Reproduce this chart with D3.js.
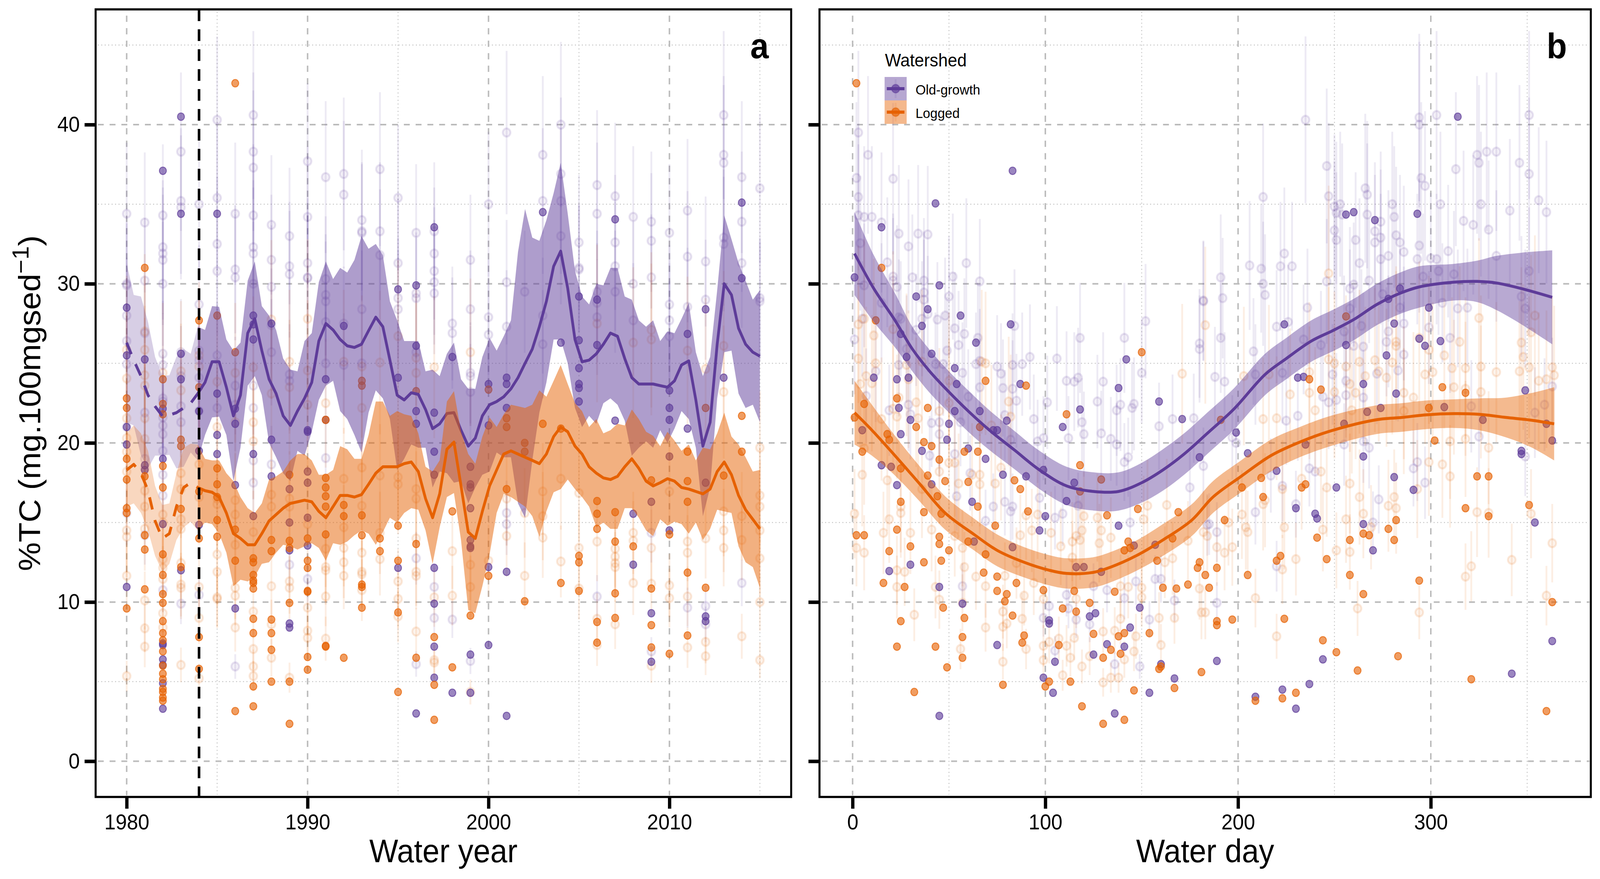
<!DOCTYPE html>
<html><head><meta charset="utf-8"><style>html,body{margin:0;padding:0;background:#fff;overflow:hidden}svg{display:block;width:100vw;height:100vh}text{font-family:"Liberation Sans",Arial,sans-serif;fill:#000}</style>
<script src="https://cdn.jsdelivr.net/npm/d3@7"></script></head><body><svg id="c" viewBox="0 0 4350 2250" preserveAspectRatio="none"></svg>
<script>
const yearTicks=[1980,1990,2000,2010], yearMinor=[1985,1995,2005,2015];
const dayTicks=[0,100,200,300], dayMinor=[50,150,250,350];
const valueTicks=[0,10,20,30,40], valueMinor=[5,15,25,35,45];
const interventionYear=1984;
const gridYears=[1980,1980.39,1980.79,1981.18,1981.57,1981.97,1982.36,1982.75,1983.15,1983.54,1983.93,1984.33,1984.72,1985.11,1985.51,1985.9,1986.29,1986.69,1987.08,1987.47,1987.87,1988.26,1988.65,1989.05,1989.44,1989.83,1990.23,1990.62,1991.01,1991.41,1991.8,1992.19,1992.59,1992.98,1993.37,1993.77,1994.16,1994.55,1994.95,1995.34,1995.73,1996.12,1996.52,1996.91,1997.3,1997.7,1998.09,1998.48,1998.88,1999.27,1999.66,2000.06,2000.45,2000.84,2001.24,2001.63,2002.02,2002.42,2002.81,2003.2,2003.6,2003.99,2004.38,2004.78,2005.17,2005.56,2005.96,2006.35,2006.74,2007.13,2007.53,2007.92,2008.31,2008.71,2009.1,2009.49,2009.89,2010.28,2010.67,2011.07,2011.46,2011.85,2012.25,2012.64,2013.03,2013.43,2013.82,2014.21,2014.61,2015];
const oldMeanA=[26.3,25.2,24.2,23,22.3,21.7,21.75,21.9,22.2,22.5,23.1,23.8,25.1,25.1,23.5,21.7,23,26.9,27.8,25.8,24,23.1,21.7,21.1,22,22.8,23.8,26.4,27.5,27.1,26.5,26.1,26,26.2,27.05,27.9,27.3,25.2,23,22.7,23.15,23.05,22.1,20.9,21.2,21.85,21.9,20.8,19.8,20.3,21.7,22.4,22.6,22.9,23.4,24.1,25,25.9,27.3,28.9,31.1,32.05,29.7,26.5,25.1,25.2,25.6,26.2,26.9,26.7,25.3,24.1,23.7,23.7,23.7,23.6,23.5,23.9,24.9,25.15,22.7,19.8,21.3,26.2,30,29.3,27.2,26.2,25.7,25.45];
const oldHalfA=[5,4.1,5,4.6,3.1,2.5,2.5,3.5,3.7,3.1,4.2,3.3,3.5,3.45,3,4.1,3.3,3.3,3.6,2.8,4,4,3.6,3.5,2.5,3.6,3.1,3.7,3.9,3.2,4.5,4.6,5.5,6.8,5.15,4.6,4.5,3.7,4.7,3.7,3.25,3.35,2.4,3.7,3,3.75,4.4,3.2,3.6,3.1,3.7,4.2,3.2,3.8,4.3,7.9,9.7,7,5.4,5.1,4.6,5.55,4.7,4.3,4.1,3.5,4.4,3.7,4.1,4.3,3.9,4.9,4,3.6,4,2.8,3.5,3,2.9,3.65,3,4.4,4.1,3.4,4.3,3.5,4.1,4,3.3,4.15];
const logMeanA=[18.3,18.65,18.1,17,15.1,14,14.3,16,17.2,17.5,17.2,17,16.9,16.6,15.6,14.3,14,13.6,13.6,14.3,15.1,15.5,15.9,16.2,16.3,16.4,16.3,15.7,15.3,16,16.7,16.7,16.6,16.75,17.4,18.1,18.5,18.5,18.5,18.7,18.8,18.2,16.5,15.3,16.8,19.6,20.05,17.3,14.4,14,15.7,17.3,18.3,19.3,19.5,19.3,19.1,18.9,18.7,19.3,20.4,21,20.7,19.8,19.3,18.5,18.1,17.8,17.7,17.9,18.5,19,18.4,17.6,17.3,17.5,17.75,17.6,17.2,17.1,16.95,16.8,17.1,18.2,18.8,18,16.7,15.8,15.2,14.6];
const logHalfA=[2.3,2.45,2.5,2.5,2.2,2.1,1.9,2.1,2.5,2.45,2.7,2,2,2.3,2.5,3.3,2.6,2.3,2,1.9,2.6,2.4,2.3,2.7,3,2.9,2.6,2.3,2.7,2.3,3.1,2.9,2.4,2.25,3.1,4.5,4.1,3.2,3.5,3.1,2.9,2.4,2,2.9,2.1,3,3.2,3.4,4.9,4.7,4.7,4.3,2.7,2.5,2.9,3,3.1,3.5,4.6,3.6,3.5,3.9,3,2.7,2.7,2.5,3.4,2.8,3.1,3.3,2.6,3.1,3.1,3.1,3.15,2.3,2.95,2.55,2.3,2.8,1.95,2.9,2.5,2.4,3.1,2.4,3.2,3.3,3,3.7];
const oldDays=[1,11,22,31,40,50,60,71,84,97,111,125,138,150,161,172,184,198,214,225,238,249,260,272,284,294,312,324,334,347,363];
const oldMeanB=[31.9,29.7,27.7,25.9,24.5,23.2,22,20.8,19.55,18.3,17.3,16.95,16.95,17.5,18.3,19.3,20.6,22.15,24.3,25.3,26.4,27.05,27.75,28.7,29.4,29.8,30.1,30.15,30.05,29.7,29.15];
const oldHalfB=[2.6,2.1,1.7,1.4,1.35,1.3,1.3,1.25,1.2,1.2,1.2,1.2,1.2,1.25,1.3,1.3,1.3,1.3,1.3,1.3,1.3,1.3,1.3,1.3,1.3,1.3,1.15,1.3,1.7,2.25,2.95];
const logDays=[1,10,22,35,48,63,75,89,102,111,125,134,147,161,176,187,201,217,231,248,272,285,298,312,325,339,352,364];
const logMeanB=[21.9,20.8,19.2,17.4,15.6,14.25,13.25,12.5,12,11.8,11.87,12.2,12.9,13.9,15.15,16.6,17.85,19.2,20,20.75,21.46,21.6,21.77,21.84,21.8,21.6,21.43,21.2];
const logHalfB=[2,1.6,1.25,1.1,1.05,1,1,.95,.95,.95,.95,.95,.95,1,1,1,1,1,.95,.95,.9,.9,.9,.9,1,1.25,1.7,2.3];
const oldRelErr=.13, logRelErr=.18;
// Panel a: first number of each row is the water year, the rest are values.
const oldSolidA=[[1980,28.5,25.5,21,19.9,10.95],[1981,25.25,18.6,18.3],[1982,37.1,22.15,19,14.9,7.4,7.3,6.4,6.05,4.9,3.3],[1983,40.5,34.4,25.6,24,12],[1984,22,19.5,14.85],[1985,34.4,23.1,20.5,19.3],[1986,22.15,21.2,17.35,9.6],[1987,28,27.45,26.5,19.3,15.4],[1988,27.5,17.9,20.2],[1989,15,13.25,8.65,8.4,17.1],[1990,20.8,20.7,18.2,17.5,15.3,13.55],[1991,24,21.45],[1992,27.35],[1995,29.65,24.1,12.15],[1996,29.9,26.1,22,21.2,3],[1997,33.55,21.9,19.45,18,12.15,9.9,7.2,5.25],[1998,25.4,4.3],[1999,18.5,17.4,17.2,15.9,13.9,13.5,13.4,6.7,4.3],[2000,23.7,21.1,12.2,7.3],[2001,24.1,23.7,22.2,11.9,2.85],[2003,34.5],[2004,26.3],[2005,29.2,26.45,24.7,23.7,23.45,22.6],[2006,29,26.15],[2007,34.05,21.4],[2008,15.55,12.35],[2009,16.3,9.3,6.25],[2010,23.3,22.2,21.45,19.15,14.5],[2011,26.85,20.9],[2012,28.4,17.5,9.1,8.8],[2013,24.1],[2014,35.1,30.35]];
const logSolidA=[[1980,22.8,22.2,19,17.7,15.9,15.6,9.6],[1981,31,17.9,14.2,13.3,10.8],[1982,24,22.45,21.8,18.55,17.2,13,11.7,10.5,9.95,8.8,8.05,7.6,6.9,6,5.5,5.15,4.55,4.35,4,3.8],[1983,20.2,19.8,15.85,12.2],[1984,27.7,23.5,16.95,14,7.8,5.8],[1985,28,18.4,17.4,16.6,15.15,14.1],[1986,42.6,25.7,14.55,12.6,3.15],[1987,12.75,12.5,11.7,11.35,11.2,10.85,8.95,8.05,4.7,3.45],[1988,13.9,13.2,8.9,8.05,7,5],[1989,18,13.85,13.4,9.95,5,2.35],[1990,14,12.6,12.15,10.7,10.65,6.55,5.75],[1991,21.45,17.8,17.2,16.65,16,14.25,7.25,7.2],[1992,16.1,15.4,6.5],[1993,23.9,23.6,15.45,14.2,11.1,10.95,9.65],[1994,14,13.2],[1995,14.8,12.6,9.35,4.35],[1996,23.25,13.65,6.5],[1997,7.8,4.8,2.6],[1998,15.7,5.9],[1999,9.15],[2000,23.35,11.65],[2001,21.55,21,17.1],[2002,20,19.45,10.05],[2003,21.2],[2004,20.9,11.2],[2005,12.9,12.5,10.7],[2006,16.35,15.55,14.6,8.75,7.45],[2007,15.65,13.8,10.55,9],[2008,13.5],[2009,17.65,10.85,8.55,7.15],[2010,14.25,6.75],[2011,19.45,17.6,16.3,11.85,7.9],[2012,22.2,10.9],[2013,17.95],[2014,21.7,19.45]];
const oldFaintA=[[1980,34.4,30,29.9,28,26.4,24.95,21,15.6],[1981,33.85,30.2,26.9,21.9,19,18.4,14.2],[1982,34.3,32.3,31.9,31.5,30,25.6,24.9,22.8,22.6,21.6,21.1,20.55,19.5,18,16.7,10.75],[1983,38.3,35.2,34.8,25.7,24.2,22.3,21.3,9.9],[1984,35,28.7,25.8,25.2,24.1,22,10.45],[1985,40.3,35.4,32.5,30.8,25.5,22.2],[1986,34.4,30.9,30.4,23.6,22.4,5.95],[1987,40.6,38.3,37.3,34.3,32.3,31.9,30,23.6,22.2,18.9,17.5],[1988,33.7,31.5,29.8,27.4,25.7,18.65],[1989,33,31.1,30.6,24.3,23.9,12.35],[1990,37.7,34.2,31.3,30.4,30.35,11.45],[1991,36.7,30.3,29.3,28.9,27.6,25,19.05],[1992,36.9,35.6,27.5,24.9],[1993,34,33.3,33.2,28.4,25],[1994,37.2,33.3,31.8],[1995,35.4,31.3,29.1,28.4],[1996,33.2,29.4,29.1,25.7,12.75,6.1],[1997,33.3,31.9,30.8,30.1,29.4,10.95,9],[1998,27.5,26.9,8.9],[1999,31.5,28.4,24.4,24.2,23.2,6.3],[2000,35,27.9,26.8],[2001,39.5,30.1,27.3,15.6,14.9],[2002,29.5],[2003,38.1,35.2,28,26.2],[2004,40,36.9,35.2,33],[2005,32.6,31,30.9],[2006,36.2,34.4,29.5,28.8,27.9,10.35],[2007,35.5,32.6,31.1,29.5],[2008,34.2,30,27.7],[2009,33.9,32.7,30.4,14.35,6.9],[2010,33.2,28.7,27.7,26.7],[2011,34.6,31.7,28.55,9.65],[2012,31.4,29,9.75,8.6],[2013,40.6,38.1,37.6,32.9,32.5],[2014,36.7,33.9,31.3,11.2],[2015,36,29.1,28.9]];
const logFaintA=[[1980,25.85,24.05,21.55,20.3,19.45,18.2,14.5,14.1,11.65,5.35],[1981,27,25.85,24.25,23.6,21.55,20.25,17,16,14.6,10.1,8.35,7.2],[1982,24.4,15.5,15,12.7,12.15,11.45,9.3,8.4],[1983,24.5,23.3,18.1,17.1,15.2,14.6,12.45,11.1,10.9,6.05],[1984,25.5,24.8,18.65,16.6,10.95,9,5.2],[1985,23.85,21,16.5,16.15,13,11.9,10.3,10.2],[1986,24.4,21.3,16.4,15.5,13.6,10.9,10.4,8.4],[1987,24.75,21.3,20.1,14.4,9.4,7.05,5.95,5.35],[1988,27.75,23.1,16.75,16,11,8.6,6.5],[1989,25.1,23.5,16.5,16,11.3,10.9,5.25],[1990,27.8,24.55,22.4,14.9,9.65,8.2,7.75],[1991,22.5,13.35,12.2,12,10.35,7.7],[1992,25.1,17.75,14.7,13.4,12.5,11.65],[1993,24.8,22.2,18.45,16.05,13.1,11.9,11.75,10.75],[1994,25.05,17.95,14.35,12.7],[1995,26.7,17.85,17.4,11.3,10.2,9.1],[1996,25.35,24.4,17.1,16.5,14,11.9,11.65,8.15],[1997,24.75,10.3,6.35,6.2],[1998,13.2,10.4],[1999,25.7,12.35,10.95,4.35],[2000,12.6],[2001,16.5,14.15],[2002,15.6,11.65],[2003,16.95,15.4,14.05],[2004,17.75,12.55],[2005,16.85,13.4,10.85],[2006,27.5,13.8,8.95,7.3],[2007,13.35,12.85,12.45,12.2,8.6],[2008,26.3,14.35,13.85,11.2],[2009,27.1,26.5,13.4,11.15,6],[2010,16.95,11.05,10.25],[2011,25.8,13.8,13.1,10.35,7.15],[2012,24.65,14,7.5,6.6],[2013,26.1,23.2,15.7,14.5,13.4],[2014,15.4,13.9,7.85],[2015,19.7,16.7,16,14.5,12.75,10,6.35]];
// Panel b: pairs of water day and value.
const oldSolidB=[[1,30.4],[15,33.55],[43,35.05],[83,37.1],[45,29.9],[33,29.2],[39,28.4],[36,27.35],[56,28],[82,27.45],[25,26.85],[64,26.3],[41,25.6],[28,25.4],[53,24.7],[11,24.1],[23,24],[29,24.1],[54,23.7],[87,23.7],[24,22.2],[53,22],[66,22],[80,21.4],[30,21.45],[138,23.45],[142,25.25],[118,22.1],[159,22.6],[171,21.5],[109,21],[50,21.2],[73,20.8],[75,20.8],[5,20.8],[25,20.55],[49,20.2],[36,19.5],[60,19.65],[69,19],[78,18],[90,17.9],[99,18.3],[115,17.5],[111,16.35],[62,16.3],[15,18.6],[20,18.5],[23,17.35],[41,17.4],[100,15.4],[97,14.5],[63,13.8],[83,13.45],[116,12.2],[120,12.2],[129,11.9],[138,14.8],[146,13.55],[157,13.6],[30,12.35],[19,11.95],[45,10.95],[57,9.9],[102,8.85],[102,8.65],[123,9.1],[126,9.3],[149,9.65],[144,8.4],[75,7.3],[132,7.35],[141,7.2],[125,6.7],[105,6.25],[99,5.25],[160,6.1],[104,4.3],[154,4.3],[167,5.2],[45,2.85],[136,3],[224,27.45],[256,34.35],[260,34.5],[271,34],[293,34.4],[314,40.5],[284,29.7],[278,29.05],[299,28.5],[281,27.5],[294,26.55],[305,26.4],[297,26.1],[256,26.15],[277,25.5],[231,24.1],[234,24.15],[265,23.7],[282,23.1],[349,23.3],[327,21.45],[274,22.2],[307,22.25],[267,21.95],[255,21.2],[360,21.2],[199,20.65],[205,19.35],[235,19.9],[180,19.1],[220,18.25],[281,17.85],[251,17.2],[265,19.15],[291,17.05],[347,19.5],[347,19.3],[363,20.15],[230,15.9],[240,15.55],[241,15.25],[265,14.9],[354,15],[270,13.25],[189,6.3],[244,6.4],[363,7.55],[237,4.85],[342,5.5],[223,4.5],[209,4.05],[230,3.3]];
const logSolidB=[[2,42.6],[15,31],[12,27.7],[69,23.9],[90,23.6],[150,25.7],[23,22.8],[6,22.45],[1,21.6],[39,22.2],[33,21],[111,21.8],[66,21],[5,19.45],[18,20.55],[19,20.2],[37,20.05],[41,19.8],[45,18.95],[58,19.45],[65,19.45],[60,17.55],[48,17.6],[39,17.95],[25,18.4],[44,16.65],[25,16.3],[65,16],[37,15.65],[46,15.55],[84,17.65],[87,17.1],[91,15.7],[74,14.8],[2,14.2],[6,14.2],[23,14.55],[45,14.1],[45,13.65],[30,13.5],[19,13.2],[50,13.25],[60,13.8],[69,13],[37,12.5],[46,12.6],[16,11.2],[27,10.95],[68,11.85],[75,11.6],[85,11.2],[75,10.7],[80,10.5],[79,10.05],[47,9.65],[83,9.15],[25,8.8],[58,9],[57,7.8],[23,7.2],[43,7.2],[57,6.5],[89,7.9],[88,7.45],[49,5.9],[32,4.35],[78,4.8],[100,4.7],[102,5],[118,16.95],[118,18.6],[129,17.7],[132,15.45],[148,15.85],[99,10.75],[115,10.7],[123,9.95],[109,9.6],[116,9.4],[107,7.3],[125,8],[138,7.85],[141,8.05],[134,7],[139,6.75],[130,6.5],[113,5],[146,4.45],[159,5.8],[160,5.95],[154,8.05],[167,4.6],[119,3.45],[130,2.35],[141,2.6],[143,13.8],[141,13.25],[144,13.4],[166,14],[169,15.65],[158,12.6],[136,10.65],[161,10.9],[168,10.85],[174,11.1],[180,12.5],[179,12.15],[183,11.7],[185,10.9],[181,5.6],[189,12.15],[189,8.8],[189,8.55],[197,8.9],[193,15.15],[202,17.2],[212,17.8],[213,16.6],[205,11.7],[220,12.6],[222,12.9],[224,8.95],[209,3.8],[223,3.95],[230,4.3],[233,17.2],[235,17.4],[241,14.05],[246,12.7],[244,7.6],[251,6.85],[258,13.9],[258,11.7],[265,14.3],[268,14.2],[265,10.5],[262,5.7],[278,14.6],[282,15.15],[281,13.9],[283,6.6],[294,11.35],[302,20.15],[318,15.9],[324,17.9],[330,17.9],[330,15.4],[351,16.1],[321,5.15],[363,10],[360,3.15],[256,27.95],[237,24],[243,23.35],[306,23.5],[318,23.15],[299,22.2],[191,21.45]];
const oldFaintB=[[3,39.5],[8,38.1],[2,36.65],[21,36.6],[3,35.45],[3,34.3],[6,34.2],[10,34.2],[15,33.85],[24,33.15],[34,33.15],[39,33.1],[4,32.55],[29,32.35],[18,31.35],[59,31.3],[21,30.45],[31,30.4],[52,30.45],[21,30.2],[6,29.9],[23,29.8],[37,30.2],[66,30.15],[37,29.45],[37,29],[50,29.2],[15,28.8],[5,27.8],[24,27.9],[25,27.8],[36,27.8],[39,28.1],[44,27.75],[48,28],[53,27.2],[33,27.1],[58,26.85],[65,26.6],[1,26.5],[55,26.15],[28,25.9],[49,25.8],[66,25.15],[12,24.5],[24,24.9],[43,24.95],[47,24.95],[57,24.4],[64,24.95],[75,24.8],[77,24.35],[83,24.9],[88,24.95],[92,25.4],[106,25.3],[111,23.9],[115,23.85],[117,24.1],[130,23.85],[118,26.6],[141,26.6],[152,27.65],[150,24.4],[180,26.25],[180,25.9],[182,28.95],[84,27.35],[78,23.45],[66,23.5],[83,23.4],[85,22.65],[60,22.9],[101,22.55],[127,22.6],[139,22.4],[137,22.05],[145,22.2],[146,22.45],[166,21.5],[177,21.55],[94,21.5],[7,22.95],[19,22.05],[29,22.4],[30,21.8],[41,21.25],[45,21.3],[56,21.3],[79,21.75],[119,21.3],[159,21.05],[45,20.55],[53,19.3],[40,19.2],[112,20.3],[120,20.55],[129,20.6],[134,20.25],[137,19.9],[143,19.1],[141,18.8],[96,20.1],[99,20.3],[82,20.2],[61,18.1],[54,16.65],[73,16],[79,16.3],[82,15.7],[83,16],[69,15.1],[97,16.55],[109,15.55],[105,15.3],[117,16.05],[144,15],[185,14.9],[175,17.2],[147,11.3],[157,11.45],[160,11.45],[125,11],[57,11],[111,10.45],[141,10.25],[132,10.75],[167,10.1],[102,9.75],[112,9.6],[99,9],[116,8.9],[123,8.6],[154,8.9],[105,6.95],[136,6.1],[149,5.95],[235,40.3],[294,40.45],[294,40],[303,40.6],[351,40.6],[324,38.1],[329,38.3],[334,38.3],[325,37.6],[346,37.6],[246,37.4],[351,36.9],[313,37.2],[295,36.65],[297,36.15],[266,36],[267,35.6],[213,35.45],[247,35.5],[356,35.25],[280,35],[305,35],[326,35],[253,35],[250,34.85],[341,34.6],[251,34.45],[360,34.5],[267,34.35],[281,34.2],[254,34.35],[274,33.9],[317,33.95],[322,33.7],[250,33.35],[271,33.3],[330,33.4],[282,33.05],[251,32.75],[261,32.75],[274,32.9],[271,32.6],[284,32.6],[294,32.4],[286,32],[224,31.9],[274,31.55],[278,31.75],[293,31.55],[300,31.6],[303,31.55],[309,32.05],[263,31.3],[206,31.15],[212,30.95],[222,31.1],[228,31.1],[191,30.4],[213,30],[246,30.15],[268,30.2],[260,29.95],[258,29.7],[312,30.6],[304,30.8],[296,30.45],[334,31.75],[351,30.8],[182,28.9],[192,29.1],[214,29.3],[275,29.35],[306,28.8],[314,28.45],[319,28.5],[347,29.2],[349,28.45],[236,28.5],[258,28.45],[284,28.5],[191,26.6],[220,27.3],[226,27.6],[264,27.35],[255,27],[286,27.5],[299,27.25],[278,27],[277,26.35],[310,26.6],[208,25.75],[260,26.1],[265,26.05],[286,25.55],[243,26.15],[234,26.5],[188,24.15],[193,23.85],[209,24.3],[223,24.4],[249,24.3],[256,23.9],[272,24.35],[283,24.55],[265,22.85],[363,23.55],[244,22.9],[247,22.55],[251,22.7],[256,23],[321,22.3],[231,21.7],[225,21.4],[354,21.9],[359,22.4],[197,20.35],[199,20],[255,19.9],[265,20.1],[268,19.7],[325,20.4],[349,19.15],[182,18.55],[217,17.95],[237,18.4],[240,18.2],[291,18.4],[293,18.8],[297,17.5],[223,17.3],[273,16.45],[230,16.15],[209,15.65],[270,15],[184,14.85],[189,14.4],[220,12.25],[189,9.95]];
const logFaintB=[[3,27.45],[6,27.8],[11,26.75],[3,25.3],[12,25],[28,24.9],[21,27.15],[36,25.1],[67,25.1],[69,25],[50,23.9],[29,24],[4,23.7],[7,24.2],[10,23.75],[24,22.85],[33,22.55],[21,22.15],[23,21.65],[45,22],[50,22.5],[81,22.6],[82,21.65],[15,21.5],[34,21.55],[171,24.35],[183,27.4],[72,21.1],[5,18],[1,15.55],[6,19.65],[18,17.65],[19,15.2],[16,14.35],[25,15.6],[25,16],[30,14.35],[2,13.4],[6,13.1],[23,12],[27,11.9],[23,10.95],[43,10.95],[45,10.15],[41,14.55],[36,17.1],[53,14.15],[57,13.4],[50,18.75],[53,18.75],[45,18.2],[32,9.2],[56,7.05],[57,9.95],[58,12.2],[64,11.6],[69,11],[66,17.4],[74,17.45],[66,18],[55,17.45],[62,18],[77,18.45],[69,8.4],[78,9.4],[78,8.45],[80,8.65],[78,6.25],[88,8.95],[90,7.05],[89,10.4],[87,14.2],[93,14.5],[96,15.5],[90,15.45],[85,12.45],[79,11.65],[94,11.2],[99,10.2],[99,7.25],[102,7.5],[107,7.7],[111,7.25],[115,7.75],[113,6.5],[99,6.35],[109,5.4],[119,5.95],[123,6.6],[130,4.95],[134,5.25],[138,5.25],[141,6.4],[146,6.9],[130,8.15],[136,8.2],[139,8.95],[147,7.85],[160,7.3],[159,9],[167,9],[181,9.35],[150,10.3],[143,10.95],[150,10.9],[139,11],[116,10.2],[103,14.35],[114,13.8],[118,13.9],[116,14.15],[119,14.5],[108,13.5],[129,14.5],[128,13.7],[134,14.05],[120,15.4],[127,15.3],[114,12.8],[151,15.2],[153,16.05],[163,16.1],[162,12.5],[166,12.75],[174,13.85],[180,10.85],[184,14.15],[202,15.5],[204,14.7],[205,14.4],[193,13.1],[189,13.45],[197,13.45],[195,15],[182,14.4],[223,17.1],[213,16.15],[214,16.4],[224,14.7],[209,10.25],[220,7.85],[223,12.05],[230,12.7],[183,9.35],[233,17.75],[243,18.2],[246,17.2],[244,14.55],[256,15.2],[258,17.45],[263,16.6],[265,15.55],[269,14.7],[258,13.15],[251,13.25],[262,9.6],[278,16.05],[281,16.6],[282,15.9],[293,17.1],[299,18.8],[306,18.65],[310,17.9],[310,20.1],[318,20.25],[330,19.7],[324,15.65],[330,15.6],[318,11.6],[321,12.25],[342,12.65],[352,15.55],[363,13.7],[360,10.4],[294,9.35],[247,30.65],[325,27.85],[354,28],[352,26.95],[347,26.3],[348,25.4],[282,26.35],[294,26.6],[315,26.35],[307,25.5],[299,25.85],[282,26.1],[256,24.8],[247,25.25],[250,25],[263,25.1],[271,25.2],[280,25.05],[311,24.7],[318,24.7],[326,24.8],[346,24.5],[351,24.75],[363,24.75],[364,24.25],[356,23.9],[360,24],[334,24.45],[301,24.45],[297,24.3],[237,24.45],[227,23.05],[237,23.15],[261,23.15],[250,23.2],[258,23.7],[277,24.1],[273,24.5],[266,24.2],[291,22.85],[286,23.15],[312,23.5],[318,23.4],[326,23.2],[240,22.05],[220,21.55],[213,21.5],[259,22.05],[286,22],[203,24.2],[216,24.3]];
const legendTitle="Watershed", legendNames=["Old-growth","Logged"];
const colOld="#5e3c99", colLog="#e66101";

const svg=d3.select("#c");
const yS=d3.scaleLinear().domain([0,40]).range([1948.5,319]);
const plotTop=24,plotBottom=2040;
const xA=d3.scaleLinear().domain([1980,2010]).range([344.4,1820]);
const xB=d3.scaleLinear().domain([0,300]).range([2318,3890]);
const flat=rows=>rows.flatMap(r=>r.slice(1).map(v=>[r[0],v]));

function panel(x,left,right,major,minor,fmt,showY,title,letter,letterX){
  const g=svg.append("g");
  const grid=g.append("g").attr("fill","none");
  valueMinor.forEach(v=>grid.append("line").attr("x1",left+6).attr("x2",right-6).attr("y1",yS(v)).attr("y2",yS(v)).attr("stroke","#bdbdbd").attr("stroke-width",2.4).attr("stroke-dasharray","2.4 7"));
  minor.forEach(v=>grid.append("line").attr("x1",x(v)).attr("x2",x(v)).attr("y1",plotTop+6).attr("y2",plotBottom-6).attr("stroke","#bdbdbd").attr("stroke-width",2.4).attr("stroke-dasharray","2.4 7"));
  valueTicks.forEach(v=>grid.append("line").attr("x1",left+6).attr("x2",right-4).attr("y1",yS(v)).attr("y2",yS(v)).attr("stroke","#bbbbbb").attr("stroke-width",4).attr("stroke-dasharray","16 16"));
  major.forEach(v=>grid.append("line").attr("x1",x(v)).attr("x2",x(v)).attr("y1",plotTop+16).attr("y2",plotBottom-4).attr("stroke","#bbbbbb").attr("stroke-width",4).attr("stroke-dasharray","16 16"));
  const marks=g.append("g");
  const axes=g.append("g");
  const ax=d3.axisBottom(x).tickValues(major).tickFormat(fmt).tickSize(30).tickPadding(14);
  const axG=axes.append("g").attr("transform",`translate(0,${plotBottom})`).call(ax);
  axG.select(".domain").remove();
  axG.selectAll("line").attr("stroke","#000").attr("stroke-width",9);
  axG.selectAll("text").attr("font-size",55).attr("dy","0.71em");
  const ay=d3.axisLeft(yS).tickValues(valueTicks).tickFormat(showY?d3.format("d"):"").tickSize(30).tickPadding(13);
  const ayG=axes.append("g").attr("transform",`translate(${left},0)`).call(ay);
  ayG.select(".domain").remove();
  ayG.selectAll("line").attr("stroke","#000").attr("stroke-width",9);
  ayG.selectAll("text").attr("font-size",55);
  axes.append("rect").attr("x",left).attr("y",plotTop).attr("width",right-left).attr("height",plotBottom-plotTop).attr("fill","none").attr("stroke","#000").attr("stroke-width",5.5);
  axes.append("text").attr("x",(left+right)/2).attr("y",2207).attr("text-anchor","middle").attr("font-size",83).text(title);
  axes.append("text").attr("x",letterX).attr("y",149).attr("text-anchor","end").attr("font-size",90).attr("font-weight","bold").text(letter);
  return marks;
}
function points(m,x,faint,col,rel){
  const bars=m.append("g").attr("stroke",col).attr("stroke-width",5).attr("stroke-opacity",.11);
  bars.selectAll("line").data(faint).join("line").attr("x1",d=>x(d[0])).attr("x2",d=>x(d[0])).attr("y1",d=>yS(d[1]*(1-rel))).attr("y2",d=>yS(d[1]*(1+rel)));
  m.append("g").selectAll("circle").data(faint).join("circle").attr("cx",d=>x(d[0])).attr("cy",d=>yS(d[1])).attr("r",10.5).attr("fill",col).attr("fill-opacity",.07).attr("stroke",col).attr("stroke-opacity",.14).attr("stroke-width",5);
}
function solids(m,x,solid,col){
  m.append("g").selectAll("circle").data(solid).join("circle").attr("cx",d=>x(d[0])).attr("cy",d=>yS(d[1])).attr("r",9.5).attr("fill",col).attr("fill-opacity",.62).attr("stroke",col).attr("stroke-opacity",.72).attr("stroke-width",2.5);
}
function ribbon(m,x,xs,mean,half,col,alpha,curve){
  const a=d3.area().x((d,i)=>x(xs[i])).y0((d,i)=>yS(mean[i]-half[i])).y1((d,i)=>yS(mean[i]+half[i])).curve(curve);
  m.append("path").attr("d",a(mean)).attr("fill",col).attr("fill-opacity",alpha);
}
function line(m,x,xs,mean,col,dash,curve){
  const l=d3.line().x((d,i)=>x(xs[i])).y(d=>yS(d)).curve(curve);
  const p=m.append("path").attr("d",l(mean)).attr("fill","none").attr("stroke",col).attr("stroke-width",7.5).attr("stroke-linejoin","round");
  if(dash)p.attr("stroke-dasharray",dash);
}
// Panel a
const mA=panel(xA,260,2151,yearTicks,yearMinor,d3.format("d"),true,"Water year","a",2090);
points(mA,xA,flat(oldFaintA),colOld,oldRelErr);
points(mA,xA,flat(logFaintA),colLog,logRelErr);
solids(mA,xA,flat(oldSolidA),colOld);
solids(mA,xA,flat(logSolidA),colLog);
const split=10;
function seriesA(mean,half,col){
  const head=a=>a.slice(0,split+1), tail=a=>a.slice(split);
  ribbon(mA,xA,head(gridYears),head(mean),head(half),col,.25,d3.curveLinear);
  line(mA,xA,head(gridYears),head(mean),col,"32 28",d3.curveLinear);
  ribbon(mA,xA,tail(gridYears),tail(mean),tail(half),col,.5,d3.curveLinear);
  line(mA,xA,tail(gridYears),tail(mean),col,null,d3.curveLinear);
}
seriesA(oldMeanA,oldHalfA,colOld);
seriesA(logMeanA,logHalfA,colLog);
mA.append("line").attr("x1",xA(interventionYear)).attr("x2",xA(interventionYear)).attr("y1",plotTop).attr("y2",plotBottom).attr("stroke","#000").attr("stroke-width",7).attr("stroke-dasharray","30 21");
// Panel b
const mB=panel(xB,2228,4325,dayTicks,dayMinor,d3.format("d"),false,"Water day","b",4260);
points(mB,xB,oldFaintB,colOld,oldRelErr);
points(mB,xB,logFaintB,colLog,logRelErr);
solids(mB,xB,oldSolidB,colOld);
solids(mB,xB,logSolidB,colLog);
const smooth=d3.curveCatmullRom;
ribbon(mB,xB,oldDays,oldMeanB,oldHalfB,colOld,.44,smooth);
line(mB,xB,oldDays,oldMeanB,colOld,null,smooth);
ribbon(mB,xB,logDays,logMeanB,logHalfB,colLog,.44,smooth);
line(mB,xB,logDays,logMeanB,colLog,null,smooth);
// y title
const yt=svg.append("text").attr("transform","translate(109,1032) rotate(-90)").attr("text-anchor","middle").attr("font-size",83);
yt.append("tspan").text("%TC (mg.100mgsed");
yt.append("tspan").attr("font-size",62).attr("dy",-32).text("\u22121");
yt.append("tspan").attr("dy",32).text(")");
// Legend
const lg=svg.append("g");
lg.append("text").attr("x",2406).attr("y",170).attr("font-size",46.3).text(legendTitle);
[colOld,colLog].forEach((c,i)=>{
  const y0=197+i*60, cy=y0+30;
  lg.append("rect").attr("x",2405).attr("y",y0).attr("width",60).attr("height",60).attr("fill",c).attr("fill-opacity",.45);
  lg.append("line").attr("x1",2435).attr("x2",2435).attr("y1",y0+6).attr("y2",y0+54).attr("stroke",c).attr("stroke-width",5).attr("stroke-opacity",.11);
  lg.append("circle").attr("cx",2435).attr("cy",cy).attr("r",10.5).attr("fill",c).attr("fill-opacity",.62).attr("stroke",c).attr("stroke-opacity",.6).attr("stroke-width",2.5);
  lg.append("circle").attr("cx",2435).attr("cy",cy).attr("r",13).attr("fill",c).attr("fill-opacity",.1);
  lg.append("line").attr("x1",2411).attr("x2",2459).attr("y1",cy).attr("y2",cy).attr("stroke",c).attr("stroke-width",8);
  lg.append("text").attr("x",2489).attr("y",y0+45).attr("font-size",36).text(legendNames[i]);
});
</script></body></html>
